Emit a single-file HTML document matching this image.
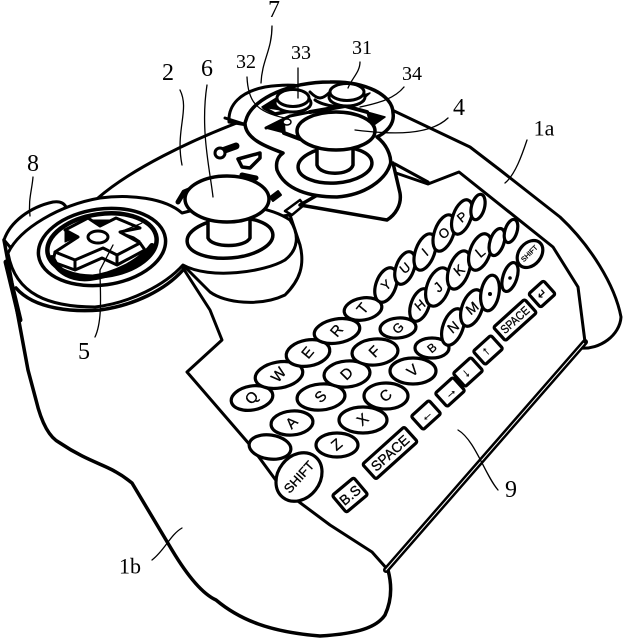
<!DOCTYPE html>
<html><head><meta charset="utf-8"><style>
html,body{margin:0;padding:0;background:#fff}
svg{display:block}
text{font-family:"Liberation Serif",serif;fill:#000;stroke:none}
.k text{font-family:"Liberation Sans",sans-serif;font-size:15px;text-anchor:middle;dominant-baseline:central;stroke:#000;stroke-width:.3}
.k ellipse,.k rect{fill:#fff;stroke:#000;stroke-width:3.2}
.l{font-size:24px;text-anchor:middle;dominant-baseline:central}
.s{font-size:20px}
.t{fill:none;stroke:#000;stroke-width:1.3}
</style></head><body>
<svg width="624" height="640" viewBox="0 0 624 640" xmlns="http://www.w3.org/2000/svg" fill="#fff" stroke="#000" stroke-width="3" stroke-linejoin="round" stroke-linecap="round">
<!-- rear arc and right grip -->
<path d="M98 198C130 170 190 140 250 118" fill="none"/>
<path d="M392 110L470 147L500 170L560 217C590 245 615 285 621 317C620 335 600 350 580 348" fill="none"/>
<!-- body -->
<path d="M4 240L15 300L28 370L36 400C42 425 50 438 60 443C85 460 105 465 116 472C125 477 128 480 132 483L172 550C190 580 205 595 216 600C240 620 270 632 320 636C350 634 375 630 385 615C392 600 392 585 388 570" fill="none" stroke-width="3.5"/>
<path d="M6 262L20 320" fill="none" stroke-width="5"/>
<!-- panel -->
<path d="M183 268L210 310L222 340L187 372L250 445L283 490L330 525L372 552L388 570" fill="none"/>
<path d="M386 570L585 342" fill="none" stroke-width="6"/>
<path d="M386 570L585 342" fill="none" stroke="#fff" stroke-width="1"/>
<path d="M393 172L428 184L459 172L553 247L578 287L585 342" fill="none"/>
<path d="M395 164L428 182" fill="none" stroke-width="3"/>
<!-- grip 8 -->
<path d="M4 240C10 222 30 207 53 202C60 201 64 203 66 207L30 240L10 247Z"/>
<!-- left skirt -->
<path d="M183 265L210 292C225 303 260 307 285 295C300 280 305 265 300 245L290 215L180 230Z"/>
<!-- left plate -->
<path d="M8 253C20 228 60 205 100 198C130 194 165 198 182 213C210 205 260 200 290 220C300 235 298 250 285 260C265 272 210 280 183 265C165 285 130 303 95 307C50 307 15 295 8 253Z"/>
<path d="M16 288C35 310 75 312 100 310C135 305 165 290 183 270" fill="none" stroke-width="3.5"/>
<!-- dpad rings -->
<ellipse cx="102" cy="247" rx="64" ry="38" transform="rotate(-8 102 247)" stroke-width="3.5"/>
<ellipse cx="102" cy="245" rx="55" ry="31" transform="rotate(-8 102 245)" stroke-width="4.5"/>
<path d="M52 258C58 272 72 280 90 278C115 275 140 262 152 246" fill="none" stroke-width="6"/>
<!-- cross -->
<path d="M55 252L78 237L65 230L88 218L100 226L116 218L140 228L120 232L140 243L117 255L103 248L75 260Z" stroke-width="3"/>
<path d="M55 252L53 262L75 270L102 258L117 265L145 250L140 243M75 260V270M117 255V265" fill="none" stroke-width="3"/>
<path d="M80 272L102 261L112 268L95 274Z" fill="#fff" stroke="none"/>
<path d="M92 220L112 220L102 225Z" fill="#000" stroke-width="1"/>
<path d="M65 230L77 237L65 242Z" fill="#000" stroke-width="1"/>
<path d="M120 232L134 237L140 241Z" fill="#000" stroke-width="1"/>
<path d="M122 231L136 226L142 223Z" fill="#000" stroke-width="1"/>
<ellipse cx="98" cy="237" rx="10" ry="6" stroke-width="3"/>
<!-- joystick 6 -->
<ellipse cx="230" cy="238" rx="43" ry="20" transform="rotate(-5 230 238)" stroke-width="3.5"/>
<path d="M208 215V238C212 248 245 248 250 238V215Z" stroke-width="3.5"/>
<path d="M178 202L184 192L196 187" fill="none" stroke-width="5"/>
<path d="M242 175L256 178" fill="none" stroke-width="5"/>
<ellipse cx="227" cy="199" rx="42" ry="23" stroke-width="3.5"/>
<path d="M270 197L278 191L281 195L273 201Z" fill="#000" stroke-width="2"/>
<path d="M285 211L300 200L304 205L292 215Z" stroke-width="2.5"/>
<!-- small parts -->
<path d="M222 151L236 146" stroke-width="7"/>
<circle cx="220" cy="153" r="5" stroke-width="3"/>
<path d="M238 159L260 153L260 158L250 168L242 167Z" stroke-width="3.5"/>
<!-- right skirt -->
<path d="M393 163L400 193C402 205 395 215 387 220L300 205L370 165Z" stroke-width="3.5"/>
<!-- back lobe + right plate -->
<path d="M229 122C228 105 240 92 265 87C285 84 300 85 310 88L247 125Z"/>
<path d="M225 118L247 125" stroke-width="3"/>
<path d="M247 117C255 98 290 82 330 82C365 81 393 95 393 113C395 125 385 133 377 137C390 147 392 162 390 165C385 180 365 195 337 197C310 197 285 190 277 170C275 160 280 155 283 153C270 148 245 140 245 123Z" stroke-width="3.5"/>
<!-- diamonds -->
<path d="M262 107L278 97L282 110Z" fill="#000" stroke-width="1.5"/>
<path d="M264 108L275 114L305 108" fill="none" stroke-width="3.5"/>
<path d="M370 93L350 100L358 104Z" fill="#000" stroke-width="1.5"/>
<path d="M315 100C322 105 345 112 362 100" fill="none" stroke-width="3"/>
<path d="M266 128L290 116L310 112" fill="none" stroke-width="3"/>
<path d="M266 128L284 120L285 133Z" fill="#000" stroke-width="1.5"/>
<path d="M284 133L300 139" fill="none" stroke-width="4"/>
<path d="M385 117L367 112L371 127Z" fill="#000" stroke-width="1.5"/>
<path d="M310 112L345 106L367 112" fill="none" stroke-width="4"/>
<!-- buttons -->
<ellipse cx="293" cy="103" rx="18" ry="9" stroke-width="3"/>
<ellipse cx="293" cy="98" rx="16" ry="8.5" stroke-width="3"/>
<path d="M310 92C318 100 322 100 330 92" fill="none" stroke-width="3"/>
<ellipse cx="347" cy="97" rx="18" ry="9" stroke-width="3"/>
<ellipse cx="347" cy="92" rx="17" ry="8.5" stroke-width="3"/>
<ellipse cx="287" cy="122" rx="4" ry="3" stroke-width="1.5"/>
<!-- joystick 4 -->
<ellipse cx="335" cy="165" rx="37" ry="18" transform="rotate(-4 335 165)" stroke-width="3.5"/>
<path d="M317 146V165C320 176 350 176 353 165V146Z" stroke-width="3.5"/>
<ellipse cx="336" cy="131" rx="39" ry="19" stroke-width="3.5"/>
<!-- keys -->
<g class="k">
<g transform="rotate(-10 252 398)"><ellipse cx="252" cy="398" rx="21" ry="12"/><text x="252" y="398" transform="rotate(-40 252 398)">Q</text></g>
<g transform="rotate(-10 279 375)"><ellipse cx="279" cy="375" rx="24" ry="13"/><text x="279" y="375" transform="rotate(-40 279 375)">W</text></g>
<g transform="rotate(-10 308 353)"><ellipse cx="308" cy="353" rx="22" ry="13"/><text x="308" y="353" transform="rotate(-40 308 353)">E</text></g>
<g transform="rotate(-10 337 331)"><ellipse cx="337" cy="331" rx="23" ry="12"/><text x="337" y="331" transform="rotate(-40 337 331)">R</text></g>
<g transform="rotate(-10 363 309)"><ellipse cx="363" cy="309" rx="19" ry="11"/><text x="363" y="309" transform="rotate(-40 363 309)">T</text></g>
<g transform="rotate(-5 292 423)"><ellipse cx="292" cy="423" rx="21" ry="12"/><text x="292" y="423" transform="rotate(-40 292 423)">A</text></g>
<g transform="rotate(-5 321 397)"><ellipse cx="321" cy="397" rx="24" ry="13"/><text x="321" y="397" transform="rotate(-40 321 397)">S</text></g>
<g transform="rotate(-5 347 374)"><ellipse cx="347" cy="374" rx="23" ry="13"/><text x="347" y="374" transform="rotate(-40 347 374)">D</text></g>
<g transform="rotate(-5 375 352)"><ellipse cx="375" cy="352" rx="23" ry="13"/><text x="375" y="352" transform="rotate(-40 375 352)">F</text></g>
<g transform="rotate(-5 398 328)"><ellipse cx="398" cy="328" rx="18" ry="10"/><text x="398" y="328" style="font-size:13px" transform="rotate(-40 398 328)">G</text></g>
<ellipse cx="270" cy="447" rx="21" ry="12" transform="rotate(8 270 447)"/>
<ellipse cx="337" cy="445" rx="21" ry="12"/><text x="337" y="445" transform="rotate(-40 337 445)">Z</text>
<ellipse cx="363" cy="420" rx="24" ry="13"/><text x="363" y="420" transform="rotate(-40 363 420)">X</text>
<ellipse cx="386" cy="396" rx="22" ry="13"/><text x="386" y="396" transform="rotate(-40 386 396)">C</text>
<ellipse cx="413" cy="371" rx="23" ry="13"/><text x="413" y="371" transform="rotate(-40 413 371)">V</text>
<ellipse cx="432" cy="348" rx="17" ry="10"/><text x="432" y="348" style="font-size:12px" transform="rotate(-40 432 348)">B</text>
<ellipse cx="299" cy="477" rx="21" ry="26" transform="rotate(38 299 477)"/><text x="299" y="477" style="font-size:13px" textLength="38" lengthAdjust="spacingAndGlyphs" transform="rotate(-48 299 477)">SHIFT</text>
<ellipse cx="386" cy="285" rx="10" ry="18" transform="rotate(20 386 285)"/><text x="386" y="285" style="font-size:13px" transform="rotate(-40 386 285)">Y</text>
<ellipse cx="405" cy="268" rx="9" ry="17" transform="rotate(20 405 268)"/><text x="405" y="268" style="font-size:13px" transform="rotate(-40 405 268)">U</text>
<ellipse cx="425" cy="252" rx="9.5" ry="19" transform="rotate(20 425 252)"/><text x="425" y="252" style="font-size:13px" transform="rotate(-40 425 252)">I</text>
<ellipse cx="444" cy="233" rx="9.5" ry="19" transform="rotate(20 444 233)"/><text x="444" y="233" style="font-size:13px" transform="rotate(-40 444 233)">O</text>
<ellipse cx="462" cy="217" rx="9" ry="18" transform="rotate(20 462 217)"/><text x="462" y="217" style="font-size:13px" transform="rotate(-40 462 217)">P</text>
<ellipse cx="478" cy="207" rx="6.5" ry="13" transform="rotate(15 478 207)"/>
<ellipse cx="420" cy="305" rx="9" ry="17" transform="rotate(20 420 305)"/><text x="420" y="305" style="font-size:13px" transform="rotate(-40 420 305)">H</text>
<ellipse cx="438" cy="287" rx="11" ry="20" transform="rotate(20 438 287)"/><text x="438" y="287" style="font-size:14px" transform="rotate(-40 438 287)">J</text>
<ellipse cx="459" cy="270" rx="10" ry="20" transform="rotate(20 459 270)"/><text x="459" y="270" style="font-size:14px" transform="rotate(-40 459 270)">K</text>
<ellipse cx="480" cy="252" rx="10" ry="19" transform="rotate(20 480 252)"/><text x="480" y="252" style="font-size:14px" transform="rotate(-40 480 252)">L</text>
<ellipse cx="497" cy="242" rx="7" ry="14" transform="rotate(18 497 242)"/>
<ellipse cx="511" cy="231" rx="6" ry="12" transform="rotate(18 511 231)"/>
<ellipse cx="453" cy="327" rx="10" ry="19" transform="rotate(20 453 327)"/><text x="453" y="327" style="font-size:14px" transform="rotate(-40 453 327)">N</text>
<ellipse cx="472" cy="308" rx="10" ry="19" transform="rotate(20 472 308)"/><text x="472" y="308" style="font-size:14px" transform="rotate(-40 472 308)">M</text>
<ellipse cx="490" cy="293" rx="9" ry="18" transform="rotate(10 490 293)"/><circle cx="490" cy="294" r="2" fill="#000" stroke="none"/>
<ellipse cx="510" cy="277" rx="7" ry="15" transform="rotate(18 510 277)"/><circle cx="510" cy="278" r="1.8" fill="#000" stroke="none"/>
<ellipse cx="530" cy="254" rx="11" ry="15" transform="rotate(40 530 254)"/><text x="530" y="254" style="font-size:7px" transform="rotate(-45 530 254)">SHIFT</text>
<g transform="rotate(-40 350 495)"><rect x="336" y="484" width="28" height="22" rx="2"/><text x="350" y="495" style="font-size:14px">B.S</text></g>
<g transform="rotate(-42 390 453)"><rect x="362" y="443" width="56" height="20" rx="2"/><text x="390" y="453" style="font-size:14px" textLength="46" lengthAdjust="spacingAndGlyphs">SPACE</text></g>
<g transform="rotate(-42 426 415)"><rect x="414" y="406" width="24" height="18" rx="2"/><text x="426" y="415" style="font-size:13px">←</text></g>
<g transform="rotate(-42 450 392)"><rect x="438" y="383" width="24" height="18" rx="2"/><text x="450" y="392" style="font-size:13px">→</text></g>
<g transform="rotate(-42 468 372)"><rect x="456" y="363" width="24" height="18" rx="2"/><text x="468" y="372" style="font-size:13px" transform="rotate(90 468 372)">→</text></g>
<g transform="rotate(-42 488 350)"><rect x="476" y="341" width="24" height="18" rx="2"/><text x="488" y="350" style="font-size:13px" transform="rotate(90 488 350)">←</text></g>
<g transform="rotate(-42 515 320)"><rect x="494" y="311" width="42" height="18" rx="2"/><text x="515" y="320" style="font-size:12px" textLength="34" lengthAdjust="spacingAndGlyphs">SPACE</text></g>
<g transform="rotate(-42 542 294)"><rect x="532" y="285" width="20" height="18" rx="2"/><text x="542" y="294" style="font-size:12px">↵</text></g>
</g>
<!-- leaders -->
<path class="t" d="M272 26C272 50 262 60 261 83"/>
<path class="t" d="M298 68V98"/>
<path class="t" d="M360 62C360 72 352 78 348 88"/>
<path class="t" d="M247 77C248 100 255 112 285 118"/>
<path class="t" d="M404 87C395 98 380 103 360 107"/>
<path class="t" d="M448 118C430 135 395 135 355 130"/>
<path class="t" d="M207 85C200 130 210 170 213 197"/>
<path class="t" d="M180 90C190 110 175 130 182 165"/>
<path class="t" d="M33 177C32 190 28 200 30 216"/>
<path class="t" d="M95 337C103 320 100 290 100 270L113 245"/>
<path class="t" d="M527 140C522 155 515 175 505 183"/>
<path class="t" d="M458 430C475 440 485 475 498 490"/>
<path class="t" d="M152 560C165 550 170 535 182 528"/>
<!-- labels -->
<text class="l" x="274" y="10">7</text>
<text class="l s" x="301" y="53">33</text>
<text class="l s" x="362" y="48">31</text>
<text class="l s" x="246" y="62">32</text>
<text class="l s" x="412" y="74">34</text>
<text class="l" x="459" y="108">4</text>
<text class="l" x="207" y="69">6</text>
<text class="l" x="168" y="73">2</text>
<text class="l" x="544" y="128" style="font-size:22px">1a</text>
<text class="l" x="33" y="164">8</text>
<text class="l" x="84" y="352">5</text>
<text class="l" x="511" y="490">9</text>
<text class="l" x="130" y="566" style="font-size:22px">1b</text>
</svg>
</body></html>
